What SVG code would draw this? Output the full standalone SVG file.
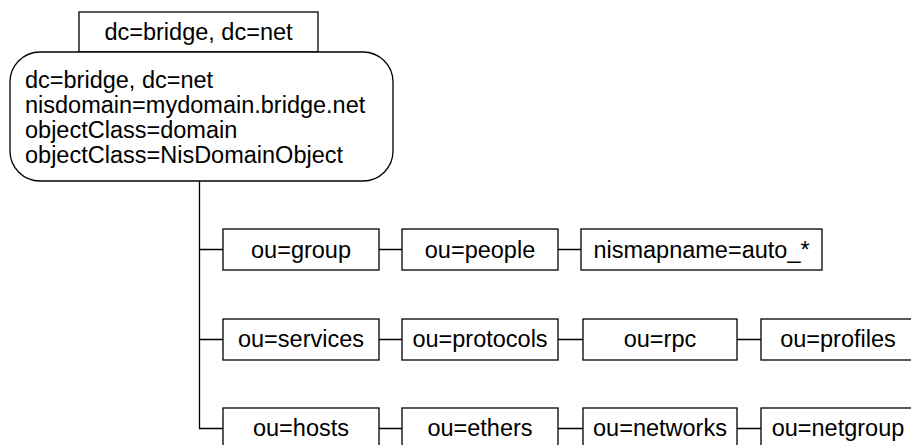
<svg xmlns="http://www.w3.org/2000/svg" width="911" height="445" viewBox="0 0 911 445">
<style>
  .box { fill: #fff; stroke: #000; stroke-width: 1.3; }
  .t { font-family: "Liberation Sans", Arial, Helvetica, sans-serif; font-size: 23.5px; fill: #000; }
  .c { text-anchor: middle; }
  .ln { fill: none; stroke: #000; stroke-width: 1.3; }
</style>
<rect width="911" height="445" fill="#fff"/>
<g id="connectors">
  <path class="ln" d="M199.5 181 V428.5 H223"/>
  <path class="ln" d="M199.5 249.5 H223 M379 249.5 H402 M558 249.5 H581"/>
  <path class="ln" d="M199.5 339.5 H223 M379 339.5 H402 M558 339.5 H583 M737 339.5 H761"/>
  <path class="ln" d="M379 428.5 H402 M558 428.5 H583 M737 428.5 H761"/>
</g>
<g id="root-label">
  <rect class="box" x="79" y="12" width="239" height="40"/>
  <text class="t c" x="198.5" y="40">dc=bridge, dc=net</text>
</g>
<g id="root">
  <rect class="box" x="10" y="52" width="383" height="129" rx="30" ry="30"/>
  <text class="t" x="25" y="87.5">dc=bridge, dc=net</text>
  <text class="t" x="25" y="112.5">nisdomain=mydomain.bridge.net</text>
  <text class="t" x="25" y="137.5">objectClass=domain</text>
  <text class="t" x="25" y="162.5">objectClass=NisDomainObject</text>
</g>
<g id="group"><rect class="box" x="223" y="229" width="156" height="41"/><text class="t c" x="301" y="258">ou=group</text></g>
<g id="people"><rect class="box" x="402" y="229" width="156" height="41"/><text class="t c" x="480" y="258">ou=people</text></g>
<g id="nismapname"><rect class="box" x="581" y="229" width="241" height="41"/><text class="t c" x="701.5" y="258">nismapname=auto_*</text></g>
<g id="services"><rect class="box" x="223" y="319" width="156" height="41"/><text class="t c" x="301" y="347">ou=services</text></g>
<g id="protocols"><rect class="box" x="402" y="319" width="156" height="41"/><text class="t c" x="480" y="347">ou=protocols</text></g>
<g id="rpc"><rect class="box" x="583" y="319" width="154" height="41"/><text class="t c" x="660" y="347">ou=rpc</text></g>
<g id="profiles"><rect class="box" x="761" y="319" width="154" height="41"/><text class="t c" x="838" y="347">ou=profiles</text></g>
<g id="hosts"><rect class="box" x="223" y="408" width="156" height="41"/><text class="t c" x="301" y="436">ou=hosts</text></g>
<g id="ethers"><rect class="box" x="402" y="408" width="156" height="41"/><text class="t c" x="480" y="436">ou=ethers</text></g>
<g id="networks"><rect class="box" x="583" y="408" width="154" height="41"/><text class="t c" x="660" y="436">ou=networks</text></g>
<g id="netgroup"><rect class="box" x="761" y="408" width="154" height="41"/><text class="t c" x="838" y="436">ou=netgroup</text></g>
</svg>
